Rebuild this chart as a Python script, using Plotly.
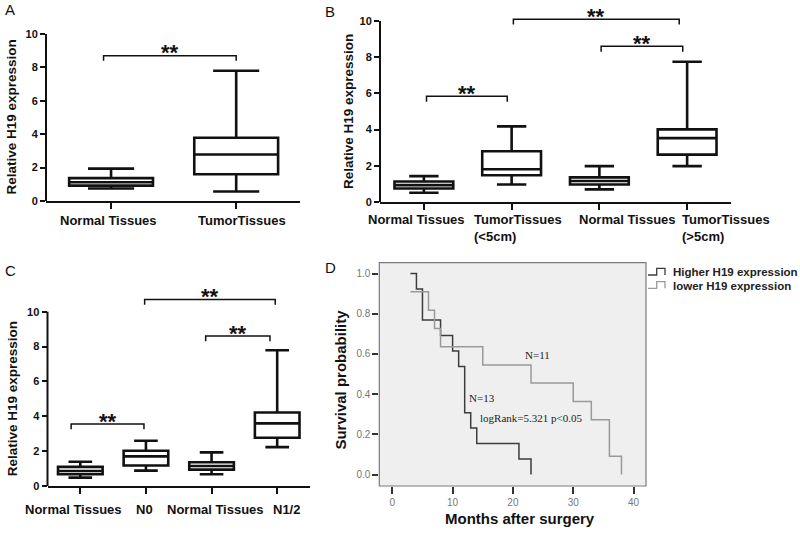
import plotly.graph_objects as go

SANS = "Liberation Sans, Arial, sans-serif"
SERIF = "Liberation Serif, Times New Roman, serif"
W, H = 800, 533

# ---- Panel A: normal vs tumor
a_cats = ["Normal Tissues", "TumorTissues"]
a_low = [0.75, 0.57]
a_q1 = [0.92, 1.60]
a_med = [1.12, 2.78]
a_q3 = [1.37, 3.79]
a_high = [1.94, 7.80]

# ---- Panel B: by tumor size
b_cats = ["Normal Tissues", "TumorTissues<br>(&lt;5cm)", "Normal Tissues", "TumorTissues<br>(&gt;5cm)"]
b_low = [0.51, 0.97, 0.70, 1.98]
b_q1 = [0.75, 1.48, 0.97, 2.62]
b_med = [0.93, 1.81, 1.16, 3.53]
b_q3 = [1.13, 2.80, 1.36, 4.01]
b_high = [1.43, 4.18, 1.98, 7.75]

# ---- Panel C: by lymph node status
c_cats = ["Normal Tissues", "N0", "Normal Tissues", "N1/2"]
c_low = [0.48, 0.88, 0.67, 2.23]
c_q1 = [0.67, 1.18, 0.94, 2.77]
c_med = [0.86, 1.70, 1.15, 3.59]
c_q3 = [1.10, 2.02, 1.36, 4.22]
c_high = [1.39, 2.60, 1.93, 7.79]

# significance brackets (left, right, height)
a_sig = [(-0.06, 1.0, 8.7)]
b_sig = [(0.03, 0.95, 5.84), (1.02, 2.91, 10.1), (2.02, 2.95, 8.6)]
c_sig = [(-0.14, 0.97, 3.55), (0.98, 2.97, 10.7), (1.91, 2.89, 8.6)]

# ---- Panel D: Kaplan-Meier
hi_months = [3, 4, 5, 8, 10, 11, 12, 13, 14, 21, 23]
hi_surv = [1.0, 0.923, 0.769, 0.692, 0.615, 0.538, 0.308, 0.231, 0.154, 0.077, 0.0]
lo_months = [3, 6, 7, 8, 15, 23, 30, 33, 36, 38]
lo_surv = [0.909, 0.818, 0.727, 0.636, 0.545, 0.455, 0.364, 0.273, 0.091, 0.0]


def xdom(l, r):
    return [l / W, r / W]


def ydom(bottom, top):
    return [1 - bottom / H, 1 - top / H]


fig = go.Figure()

panels = [
    # cats, low, q1, med, q3, high, sig, x-domain px, y-domain px, ymax, xrange, boxwidth, whisker,
    # label x px, label anchor, label top px
    (a_cats, a_low, a_q1, a_med, a_q3, a_high, a_sig, (46, 300), (201, 34), 10.0, [-0.52, 1.51], 0.67, 0.55,
     [108.8, 241.8], "center", 211),
    (b_cats, b_low, b_q1, b_med, b_q3, b_high, b_sig, (380, 731), (202, 2.9), 11.0, [-0.5, 3.5], 0.67, 0.5,
     [366, 471.7, 576.7, 680], "left", 210.5),
    (c_cats, c_low, c_q1, c_med, c_q3, c_high, c_sig, (47.5, 310), (486, 283.8), 11.6, [-0.5, 3.5], 0.68, 0.53,
     [73.7, 144, 215.5, 286.7], "center", 500.5),
]

layout_axes = {}
shapes = []
annotations = []

for i, (cats, low, q1, med, q3, high, sig, xd, yd, ymax, xr, bw, ww, lab_x, lab_anchor, lab_top) in enumerate(panels):
    n = i + 1
    xa = "x" if n == 1 else f"x{n}"
    ya = "y" if n == 1 else f"y{n}"
    fig.add_trace(go.Box(
        x=list(range(len(cats))), lowerfence=low, q1=q1, median=med, q3=q3, upperfence=high,
        xaxis=xa, yaxis=ya, width=bw, whiskerwidth=ww, boxpoints=False,
        fillcolor="white", line=dict(color="#111111", width=2.6), showlegend=False, hoverinfo="skip"))
    xkey = "xaxis" if n == 1 else f"xaxis{n}"
    ykey = "yaxis" if n == 1 else f"yaxis{n}"
    layout_axes[xkey] = dict(
        domain=xdom(*xd), anchor=ya, range=xr, tickvals=list(range(len(cats))), showticklabels=False,
        showline=True, linewidth=2, linecolor="#111111", ticks="outside", ticklen=6, tickwidth=2,
        tickcolor="#111111", showgrid=False, zeroline=False, automargin=False)
    layout_axes[ykey] = dict(
        domain=ydom(*yd), anchor=xa, range=[0, ymax], tickvals=[0, 2, 4, 6, 8, 10],
        showline=False, ticks="outside", ticklen=5, tickwidth=2, tickcolor="#111111",
        showgrid=False, zeroline=False, automargin=False,
        tickfont=dict(family=SANS, size=11, color="#111111", weight="bold"))
    # y axis line only up to 10
    shapes.append(dict(type="line", xref=f"{xa} domain", yref=f"{ya} domain", x0=0, x1=0,
                       y0=0, y1=10 / ymax, line=dict(color="#111111", width=2)))
    for (l, r, h) in sig:
        shapes.append(dict(type="path", xref=xa, yref=ya,
                           path=f"M{l},{h - 0.3} L{l},{h} L{r},{h} L{r},{h - 0.3}",
                           line=dict(color="#111111", width=1.5)))
        annotations.append(dict(xref=xa, yref=ya, x=(l + r) / 2, y=h, text="**", showarrow=False,
                                xanchor="center", yanchor="middle", yshift=3,
                                font=dict(family=SANS, size=22, color="#111111", weight="bold")))
    # category labels
    for cat, lx in zip(cats, lab_x):
        annotations.append(dict(xref="paper", yref="paper", x=lx / W, y=1 - lab_top / H, text=cat,
                                xanchor=lab_anchor, yanchor="top", align=lab_anchor, showarrow=False,
                                font=dict(family=SANS, size=13, color="#111111", weight="bold")))
    annotations.append(dict(xref="paper", yref=ya, x=[11, 348.5, 12.5][i] / W, y=5,
                            xanchor="center", yanchor="middle",
                            text="Relative H19 expression", textangle=-90, showarrow=False,
                            font=dict(family=SANS, size=13.5, color="#111111", weight="bold")))

# ---- Panel D
fig.add_trace(go.Scatter(x=hi_months, y=hi_surv, mode="lines", line=dict(shape="hv", color="#3c3c3c", width=1.5),
                         xaxis="x4", yaxis="y4", showlegend=False, hoverinfo="skip"))
fig.add_trace(go.Scatter(x=lo_months, y=lo_surv, mode="lines", line=dict(shape="hv", color="#9a9a9a", width=1.5),
                         xaxis="x4", yaxis="y4", showlegend=False, hoverinfo="skip"))

layout_axes["xaxis4"] = dict(
    domain=xdom(379.3, 646), anchor="y4", range=[-2.16, 42.07], tickvals=[0, 10, 20, 30, 40],
    ticks="outside", ticklen=7, tickwidth=1.5, tickcolor="#333333", showline=False, showgrid=False,
    zeroline=False, automargin=False, tickangle=0, tickfont=dict(family=SANS, size=10, color="#777777"))
layout_axes["yaxis4"] = dict(
    domain=ydom(486, 262.7), anchor="x4", range=[-0.057, 1.054], tickvals=[0, 0.2, 0.4, 0.6, 0.8, 1.0],
    tickformat=".1f", ticks="outside", ticklen=6, tickwidth=1.5, tickcolor="#333333", showline=False,
    showgrid=False, zeroline=False, automargin=False, tickfont=dict(family=SANS, size=10, color="#777777"))

shapes.insert(0, dict(type="rect", xref="x4 domain", yref="y4 domain", x0=0, x1=1, y0=0, y1=1,
                      fillcolor="#efefef", line=dict(color="#7a7a7a", width=1.2), layer="below"))


def px(x, y):
    return f"{x / W:.5f},{1 - y / H:.5f}"


# legend step icons
for dy, col in [(0, "#3c3c3c"), (13.3, "#9a9a9a")]:
    shapes.append(dict(type="path", xref="paper", yref="paper",
                       path=(f"M{px(648, 275 + dy)} L{px(656.7, 275 + dy)} L{px(656.7, 268.3 + dy)} "
                             f"L{px(665, 268.3 + dy)} L{px(665, 275 + dy)}"),
                       line=dict(color=col, width=1.3)))
annotations += [
    dict(xref="paper", yref="paper", x=671 / W, y=1 - 272.3 / H, text="Higher H19 expression",
         xanchor="left", yanchor="middle", showarrow=False,
         font=dict(family=SANS, size=11.5, color="#222222", weight="bold")),
    dict(xref="paper", yref="paper", x=671 / W, y=1 - 285.6 / H, text="lower H19 expression",
         xanchor="left", yanchor="middle", showarrow=False,
         font=dict(family=SANS, size=11.5, color="#222222", weight="bold")),
    dict(xref="x4", yref="y4", x=24, y=0.595, text="N=11", showarrow=False, xanchor="center", yanchor="middle",
         font=dict(family=SERIF, size=11, color="#222222")),
    dict(xref="x4", yref="y4", x=14.8, y=0.38, text="N=13", showarrow=False, xanchor="center", yanchor="middle",
         font=dict(family=SERIF, size=11, color="#222222")),
    dict(xref="x4", yref="y4", x=14.2, y=0.28, text="logRank=5.321 p&lt;0.05", xanchor="left",
         yanchor="middle", showarrow=False, font=dict(family=SERIF, size=11, color="#222222")),
    dict(xref="paper", yref="y4", x=340.5 / W, y=0.47, text="Survival probability", textangle=-90,
         xanchor="center", yanchor="middle", showarrow=False,
         font=dict(family=SANS, size=15, color="#111111", weight="bold")),
    dict(xref="x4", yref="paper", x=21.2, y=1 - 518 / H, text="Months after surgery", showarrow=False,
         xanchor="center", yanchor="middle", font=dict(family=SANS, size=15, color="#111111", weight="bold")),
]

# panel letters
for letter, lx, ly in [("A", 10, 10), ("B", 330, 11), ("C", 10, 270), ("D", 330, 267)]:
    annotations.append(dict(xref="paper", yref="paper", x=lx / W, y=1 - ly / H, text=letter,
                            xanchor="center", yanchor="middle", showarrow=False,
                            font=dict(family=SANS, size=15, color="#111111")))

fig.update_layout(
    width=W, height=H, margin=dict(l=0, r=0, t=0, b=0, autoexpand=False),
    paper_bgcolor="white", plot_bgcolor="white",
    shapes=shapes, annotations=annotations, **layout_axes)

# drop the browser's default page margin so the figure sits at the top-left corner
fig.write_html("out.html", config={"displayModeBar": False},
               post_script="document.body.style.margin = '0';")
